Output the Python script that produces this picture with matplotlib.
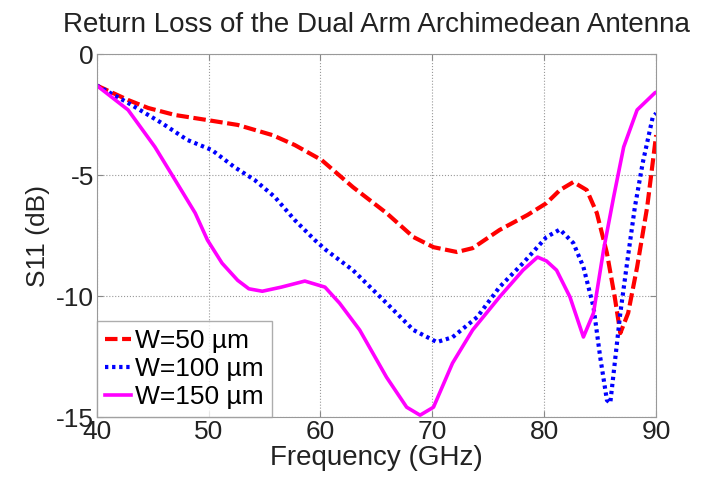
import matplotlib
matplotlib.use("Agg")
import matplotlib.pyplot as plt

plt.rcParams['font.family'] = ['Liberation Sans', 'DejaVu Sans']
plt.rcParams['axes.unicode_minus'] = False

# W = 50 um
f_50 = [40, 42.8, 44.6, 47, 49.9, 52.6, 55.7, 57.7, 60.1, 62.9, 65.9, 68.3, 70.1, 72.2, 73.6,
        76, 78.5, 80.2, 81.4, 82.6, 83.8, 84.7, 85.6, 86.3, 86.8, 87.5, 88.3, 89.2, 90]
s_50 = [-1.3, -1.9, -2.23, -2.52, -2.73, -2.93, -3.35, -3.76, -4.38, -5.5, -6.57, -7.56, -7.98, -8.18, -8.02,
        -7.27, -6.65, -6.16, -5.62, -5.29, -5.62, -6.57, -8.22, -10.04, -11.53, -10.7, -8.8, -6.32, -3.35]

# W = 100 um
f_100 = [40, 42.8, 45.8, 48.1, 50.3, 52.3, 54.1, 55.9, 57.7, 59.5, 60.5, 62.9, 65.9, 68.3, 70.4,
         71.8, 74, 76, 78.1, 80.2, 81.4, 82.6, 83.5, 84.4, 85, 85.6, 85.9, 86.3, 86.8, 87.4,
         88.1, 88.8, 89.7, 90]
s_100 = [-1.3, -2.02, -2.85, -3.55, -3.97, -4.67, -5.2, -5.9, -6.86, -7.69, -8.1, -8.93, -10.29, -11.4, -11.9,
         -11.7, -10.87, -9.63, -8.64, -7.56, -7.25, -7.81, -8.8, -10.45, -12.52, -14.3, -14.42, -12.77, -10.7, -8.64,
         -6.32, -4.5, -2.6, -2.45]

# W = 150 um
f_150 = [40, 42.8, 45.2, 47, 48.8, 49.9, 51.2, 52.6, 53.6, 54.8, 56.5, 58.6, 60.4, 61.7, 63.5, 65.9,
         67.7, 68.9, 70.1, 71.8, 73.6, 76, 78.1, 79.4, 80.2, 81.1, 82.3, 83.5, 84.4, 85.3, 86.2,
         87.1, 88.3, 89.9, 90]
s_150 = [-1.3, -2.31, -3.84, -5.2, -6.57, -7.69, -8.64, -9.35, -9.7, -9.8, -9.63, -9.38, -9.63, -10.29, -11.4, -13.35,
         -14.59, -14.92, -14.59, -12.77, -11.4, -10.04, -8.93, -8.39, -8.55, -8.93, -10.04, -11.69, -10.7, -8.1, -5.91,
         -3.84, -2.31, -1.6, -1.58]

labels = ["W=50 \u00b5m", "W=100 \u00b5m", "W=150 \u00b5m"]

fig = plt.figure(figsize=(7.01, 4.80), dpi=100)
ax = fig.add_axes([0.138, 0.131, 0.798, 0.7565])

ax.plot(f_50, s_50, color='#ff0000', lw=3, linestyle=(0, (3, 1.1)), label=labels[0])
ax.plot(f_100, s_100, color='#0000ff', lw=3, linestyle=(0, (0.8, 0.9)), label=labels[1])
ax.plot(f_150, s_150, color='#ff00ff', lw=2.6, linestyle='-', label=labels[2])

ax.set_xlim(40, 90)
ax.set_ylim(-15, 0)
ax.set_xticks([40, 50, 60, 70, 80, 90])
ax.set_yticks([-15, -10, -5, 0])
ax.tick_params(direction='in', labelsize=19, length=4, color='#888888', pad=2,
               top=True, right=True, labelcolor='#222222')
ax.grid(True, linestyle=':', color='#999999', lw=0.8)
for sp in ax.spines.values():
    sp.set_color('#999999')

ax.set_title("Return Loss of the Dual Arm Archimedean Antenna", fontsize=20, color='#222222', pad=16)
ax.set_xlabel("Frequency (GHz)", fontsize=20, color='#222222', labelpad=1)
ax.set_ylabel("S11 (dB)", fontsize=19, color='#222222', labelpad=4)

leg = ax.legend(loc='lower left', fontsize=19, borderaxespad=0, handlelength=1.0,
                handletextpad=0.15, labelspacing=0.15, borderpad=0.3, fancybox=False)
leg.get_frame().set_edgecolor('#999999')
leg.get_frame().set_linewidth(1.0)

fig.savefig("out.png", dpi=100)
